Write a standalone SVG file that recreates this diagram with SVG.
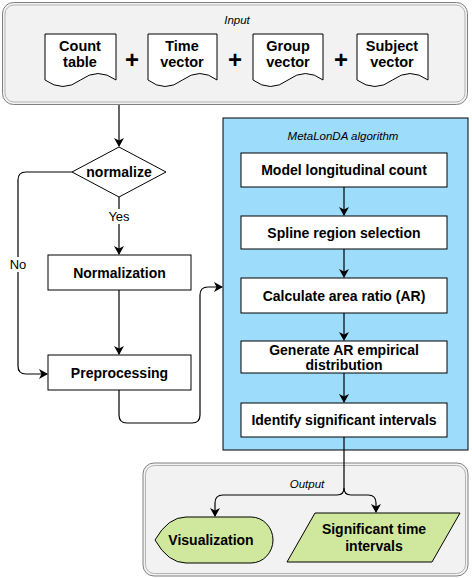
<svg xmlns="http://www.w3.org/2000/svg" width="472" height="578" viewBox="0 0 472 578">
<style>
text{font-family:"Liberation Sans",Arial,sans-serif;fill:#000}
.b{font-weight:bold;font-size:14px;text-anchor:middle}
.d{font-weight:bold;font-size:14.5px;text-anchor:middle}
.i{font-style:italic;font-size:11.5px;text-anchor:middle}
.l{font-size:13px;text-anchor:middle}
.box{fill:#fff;stroke:#000;stroke-width:1}
.cont{fill:#f2f2f2;stroke:#808080;stroke-width:1}
.cin{fill:none;stroke:#b3b3b3;stroke-width:1}
.green{fill:#d0e79e;stroke:#000;stroke-width:1}
.c{fill:none;stroke:#000;stroke-width:1.2}
</style>
<defs>
<marker id="a" markerWidth="10" markerHeight="10" refX="8" refY="5" orient="auto" markerUnits="userSpaceOnUse">
<path d="M0,0 L9,5 L0,10 L2.5,5 Z" fill="#000"/>
</marker>
</defs>

<g id="input">
<rect class="cont" x="2.5" y="2.5" width="465" height="102" rx="11"/>
<rect class="cin" x="5" y="5" width="460" height="97" rx="9"/>
<text class="i" x="237" y="24">Input</text>
</g>
<g id="count-table">
<path class="box" d="M45,34 H116 V80 Q98,67 80.5,80 Q63,93 45,80 Z"/>
<text class="d" x="80" y="51">Count</text><text class="d" x="80" y="67">table</text>
</g>
<g id="time-vector">
<path class="box" d="M148,34 H217 V80 Q200,67 182.5,80 Q165,93 148,80 Z"/>
<text class="d" x="182" y="51">Time</text><text class="d" x="182" y="67">vector</text>
</g>
<g id="group-vector">
<path class="box" d="M253,34 H323 V80 Q305.5,67 288,80 Q270.5,93 253,80 Z"/>
<text class="d" x="288" y="51">Group</text><text class="d" x="288" y="67">vector</text>
</g>
<g id="subject-vector">
<path class="box" d="M357,34 H428 V80 Q410,67 392.5,80 Q375,93 357,80 Z"/>
<text class="d" x="392" y="51">Subject</text><text class="d" x="392" y="67">vector</text>
</g>
<g id="plus" font-weight="bold" text-anchor="middle">
<text x="132" y="68" style="font-size:24px">+</text>
<text x="235" y="68" style="font-size:24px">+</text>
<text x="341" y="68" style="font-size:24px">+</text>
</g>

<g id="normalize">
<path class="box" d="M72,172 L119,147 L166,172 L119,197 Z"/>
<text class="b" x="119" y="177">normalize</text>
</g>
<g id="normalization">
<rect class="box" x="48" y="255" width="143" height="35"/>
<text class="b" x="119.5" y="277.5">Normalization</text>
</g>
<g id="preprocessing">
<rect class="box" x="48" y="355" width="143" height="35"/>
<text class="b" x="119.5" y="377.5">Preprocessing</text>
</g>

<g id="metalonda">
<rect x="223" y="118" width="245" height="332" fill="#9ddcfb" stroke="#000" stroke-width="1"/>
<text class="i" x="343" y="140">MetaLonDA algorithm</text>
</g>
<g id="model">
<rect class="box" x="241" y="153" width="206" height="34"/>
<text class="b" x="344" y="175">Model longitudinal count</text>
</g>
<g id="spline">
<rect class="box" x="241" y="216" width="206" height="33"/>
<text class="b" x="344" y="237.5">Spline region selection</text>
</g>
<g id="calculate">
<rect class="box" x="241" y="278" width="206" height="35"/>
<text class="b" x="344" y="300.5">Calculate area ratio (AR)</text>
</g>
<g id="generate">
<rect class="box" x="241" y="341" width="206" height="32"/>
<text class="b" x="344" y="355">Generate AR empirical</text>
<text class="b" x="344" y="370">distribution</text>
</g>
<g id="identify">
<rect class="box" x="241" y="403" width="206" height="34"/>
<text class="b" x="344" y="425">Identify significant intervals</text>
</g>

<g id="output">
<rect class="cont" x="143" y="463" width="325" height="113" rx="11"/>
<rect class="cin" x="145.5" y="465.5" width="320" height="108" rx="9"/>
<text class="i" x="307" y="488">Output</text>
</g>
<g id="visualization">
<path class="green" d="M155,540 Q168,517 186,517 H251 A22,23 0 0 1 251,563 H186 Q168,563 155,540 Z"/>
<text class="b" x="211" y="545">Visualization</text>
</g>
<g id="significant">
<path class="green" d="M315,513 H460 L432,562 H287 Z"/>
<text class="b" x="374" y="534">Significant time</text>
<text class="b" x="374" y="551">intervals</text>
</g>

<g id="connectors">
<path class="c" d="M119,105 V146" marker-end="url(#a)"/>
<path class="c" d="M119,197 V254" marker-end="url(#a)"/>
<rect x="104" y="209" width="30" height="15" fill="#fff"/>
<text class="l" x="119" y="221">Yes</text>
<path class="c" d="M72,172 H26 Q18,172 18,180 V366 Q18,374 26,374 H47" marker-end="url(#a)"/>
<rect x="7" y="257" width="22" height="15" fill="#fff"/>
<text class="l" x="18" y="269">No</text>
<path class="c" d="M119,290 V354" marker-end="url(#a)"/>
<path class="c" d="M119,390 V415 Q119,423 127,423 H192 Q200,423 200,415 V295 Q200,287 208,287 H222" marker-end="url(#a)"/>
<path class="c" d="M344,187 V215" marker-end="url(#a)"/>
<path class="c" d="M344,249 V277" marker-end="url(#a)"/>
<path class="c" d="M344,313 V340" marker-end="url(#a)"/>
<path class="c" d="M344,373 V402" marker-end="url(#a)"/>
<path class="c" d="M344,437 V488 Q344,495 337,495 H223 Q215,495 215,503 V516" marker-end="url(#a)"/>
<path class="c" d="M344,488 Q344,495 351,495 H368 Q376,495 376,503 V512" marker-end="url(#a)"/>
</g>
</svg>
